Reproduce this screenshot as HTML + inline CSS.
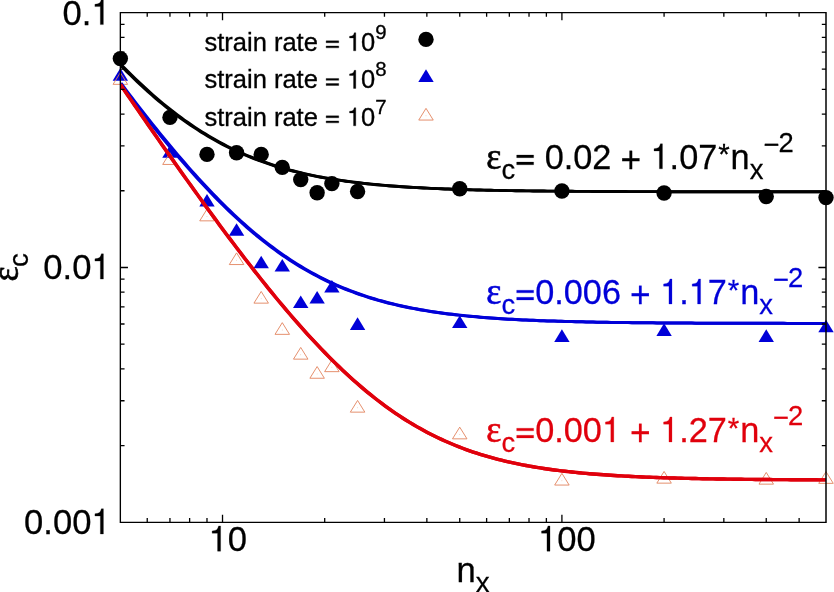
<!DOCTYPE html>
<html><head><meta charset="utf-8"><style>
html,body{margin:0;padding:0;background:#fff;}
body{width:834px;height:592px;overflow:hidden;position:relative;font-family:"Liberation Sans",sans-serif;}
svg{position:absolute;left:0;top:0;will-change:transform;}
text{font-kerning:none;}
</style></head><body>
<svg width="834" height="592" viewBox="0 0 834 592">
<circle cx="120.35" cy="58.60" r="7.7" fill="#000"/>
<circle cx="169.95" cy="117.40" r="7.7" fill="#000"/>
<circle cx="206.99" cy="154.40" r="7.7" fill="#000"/>
<circle cx="236.57" cy="152.70" r="7.7" fill="#000"/>
<circle cx="261.19" cy="154.40" r="7.7" fill="#000"/>
<circle cx="282.28" cy="167.40" r="7.7" fill="#000"/>
<circle cx="300.73" cy="179.60" r="7.7" fill="#000"/>
<circle cx="317.13" cy="192.80" r="7.7" fill="#000"/>
<circle cx="331.88" cy="183.60" r="7.7" fill="#000"/>
<circle cx="357.58" cy="191.50" r="7.7" fill="#000"/>
<circle cx="459.74" cy="188.70" r="7.7" fill="#000"/>
<circle cx="561.91" cy="191.00" r="7.7" fill="#000"/>
<circle cx="664.08" cy="193.00" r="7.7" fill="#000"/>
<circle cx="766.24" cy="196.50" r="7.7" fill="#000"/>
<circle cx="826.01" cy="197.60" r="7.7" fill="#000"/>
<path d="M120.35 68.10L128.05 80.70L112.65 80.70Z" fill="#0000d8"/>
<path d="M169.95 145.20L177.65 157.80L162.25 157.80Z" fill="#0000d8"/>
<path d="M206.99 194.00L214.69 206.60L199.29 206.60Z" fill="#0000d8"/>
<path d="M236.57 223.20L244.27 235.80L228.87 235.80Z" fill="#0000d8"/>
<path d="M261.19 255.70L268.89 268.30L253.49 268.30Z" fill="#0000d8"/>
<path d="M282.28 258.90L289.98 271.50L274.58 271.50Z" fill="#0000d8"/>
<path d="M300.73 295.40L308.43 308.00L293.03 308.00Z" fill="#0000d8"/>
<path d="M317.13 291.00L324.83 303.60L309.43 303.60Z" fill="#0000d8"/>
<path d="M331.88 279.90L339.58 292.50L324.18 292.50Z" fill="#0000d8"/>
<path d="M357.58 317.30L365.28 329.90L349.88 329.90Z" fill="#0000d8"/>
<path d="M459.74 315.50L467.44 328.10L452.04 328.10Z" fill="#0000d8"/>
<path d="M561.91 329.30L569.61 341.90L554.21 341.90Z" fill="#0000d8"/>
<path d="M664.08 323.30L671.78 335.90L656.38 335.90Z" fill="#0000d8"/>
<path d="M766.24 329.30L773.94 341.90L758.54 341.90Z" fill="#0000d8"/>
<path d="M826.01 319.70L833.71 332.30L818.31 332.30Z" fill="#0000d8"/>
<path d="M120.35 72.65L127.60 84.35L113.10 84.35Z" fill="none" stroke="#e2835e" stroke-width="0.9"/><circle cx="120.35" cy="80.00" r="0.45" fill="#e2835e" fill-opacity="0.6"/>
<path d="M169.95 152.75L177.20 164.45L162.70 164.45Z" fill="none" stroke="#e2835e" stroke-width="0.9"/><circle cx="169.95" cy="160.10" r="0.45" fill="#e2835e" fill-opacity="0.6"/>
<path d="M206.99 209.15L214.24 220.85L199.74 220.85Z" fill="none" stroke="#e2835e" stroke-width="0.9"/><circle cx="206.99" cy="216.50" r="0.45" fill="#e2835e" fill-opacity="0.6"/>
<path d="M236.57 252.85L243.82 264.55L229.32 264.55Z" fill="none" stroke="#e2835e" stroke-width="0.9"/><circle cx="236.57" cy="260.20" r="0.45" fill="#e2835e" fill-opacity="0.6"/>
<path d="M261.19 291.45L268.44 303.15L253.94 303.15Z" fill="none" stroke="#e2835e" stroke-width="0.9"/><circle cx="261.19" cy="298.80" r="0.45" fill="#e2835e" fill-opacity="0.6"/>
<path d="M282.28 322.65L289.53 334.35L275.03 334.35Z" fill="none" stroke="#e2835e" stroke-width="0.9"/><circle cx="282.28" cy="330.00" r="0.45" fill="#e2835e" fill-opacity="0.6"/>
<path d="M300.73 347.45L307.98 359.15L293.48 359.15Z" fill="none" stroke="#e2835e" stroke-width="0.9"/><circle cx="300.73" cy="354.80" r="0.45" fill="#e2835e" fill-opacity="0.6"/>
<path d="M317.13 366.55L324.38 378.25L309.88 378.25Z" fill="none" stroke="#e2835e" stroke-width="0.9"/><circle cx="317.13" cy="373.90" r="0.45" fill="#e2835e" fill-opacity="0.6"/>
<path d="M331.88 359.95L339.13 371.65L324.63 371.65Z" fill="none" stroke="#e2835e" stroke-width="0.9"/><circle cx="331.88" cy="367.30" r="0.45" fill="#e2835e" fill-opacity="0.6"/>
<path d="M357.58 400.45L364.83 412.15L350.33 412.15Z" fill="none" stroke="#e2835e" stroke-width="0.9"/><circle cx="357.58" cy="407.80" r="0.45" fill="#e2835e" fill-opacity="0.6"/>
<path d="M459.74 427.15L466.99 438.85L452.49 438.85Z" fill="none" stroke="#e2835e" stroke-width="0.9"/><circle cx="459.74" cy="434.50" r="0.45" fill="#e2835e" fill-opacity="0.6"/>
<path d="M561.91 473.35L569.16 485.05L554.66 485.05Z" fill="none" stroke="#e2835e" stroke-width="0.9"/><circle cx="561.91" cy="480.70" r="0.45" fill="#e2835e" fill-opacity="0.6"/>
<path d="M664.08 471.45L671.33 483.15L656.83 483.15Z" fill="none" stroke="#e2835e" stroke-width="0.9"/><circle cx="664.08" cy="478.80" r="0.45" fill="#e2835e" fill-opacity="0.6"/>
<path d="M766.24 472.45L773.49 484.15L758.99 484.15Z" fill="none" stroke="#e2835e" stroke-width="0.9"/><circle cx="766.24" cy="479.80" r="0.45" fill="#e2835e" fill-opacity="0.6"/>
<path d="M826.01 471.65L833.26 483.35L818.76 483.35Z" fill="none" stroke="#e2835e" stroke-width="0.9"/><circle cx="826.01" cy="479.00" r="0.45" fill="#e2835e" fill-opacity="0.6"/>
<clipPath id="pc"><rect x="120.35" y="7.65" width="705.65" height="519.65"/></clipPath><g clip-path="url(#pc)">
<polyline points="119.75,64.47 123.28,68.07 126.81,71.60 130.34,75.09 133.87,78.51 137.39,81.88 140.92,85.18 144.45,88.43 147.98,91.62 151.51,94.74 155.04,97.81 158.56,100.81 162.09,103.75 165.62,106.62 169.15,109.44 172.68,112.19 176.21,114.87 179.73,117.50 183.26,120.06 186.79,122.55 190.32,124.99 193.85,127.36 197.38,129.66 200.90,131.91 204.43,134.09 207.96,136.22 211.49,138.28 215.02,140.28 218.54,142.23 222.07,144.11 225.60,145.94 229.13,147.71 232.66,149.42 236.19,151.08 239.71,152.69 243.24,154.24 246.77,155.74 250.30,157.19 253.83,158.59 257.36,159.94 260.88,161.24 264.41,162.49 267.94,163.71 271.47,164.87 275.00,166.00 278.53,167.08 282.05,168.12 285.58,169.12 289.11,170.09 292.64,171.01 296.17,171.90 299.70,172.76 303.22,173.58 306.75,174.37 310.28,175.13 313.81,175.85 317.34,176.55 320.86,177.22 324.39,177.86 327.92,178.48 331.45,179.07 334.98,179.63 338.51,180.17 342.03,180.69 345.56,181.19 349.09,181.66 352.62,182.12 356.15,182.55 359.68,182.97 363.20,183.37 366.73,183.75 370.26,184.11 373.79,184.46 377.32,184.80 380.85,185.11 384.37,185.42 387.90,185.71 391.43,185.99 394.96,186.25 398.49,186.51 402.01,186.75 405.54,186.98 409.07,187.21 412.60,187.42 416.13,187.62 419.66,187.81 423.18,188.00 426.71,188.17 430.24,188.34 433.77,188.50 437.30,188.65 440.83,188.80 444.35,188.94 447.88,189.07 451.41,189.20 454.94,189.32 458.47,189.44 462.00,189.55 465.52,189.65 469.05,189.75 472.58,189.85 476.11,189.94 479.64,190.03 483.16,190.11 486.69,190.19 490.22,190.27 493.75,190.34 497.28,190.41 500.81,190.47 504.33,190.54 507.86,190.60 511.39,190.65 514.92,190.71 518.45,190.76 521.98,190.81 525.50,190.86 529.03,190.90 532.56,190.95 536.09,190.99 539.62,191.03 543.15,191.06 546.67,191.10 550.20,191.13 553.73,191.16 557.26,191.20 560.79,191.22 564.32,191.25 567.84,191.28 571.37,191.30 574.90,191.33 578.43,191.35 581.96,191.37 585.48,191.40 589.01,191.42 592.54,191.43 596.07,191.45 599.60,191.47 603.13,191.49 606.65,191.50 610.18,191.52 613.71,191.53 617.24,191.55 620.77,191.56 624.30,191.57 627.82,191.58 631.35,191.59 634.88,191.60 638.41,191.62 641.94,191.62 645.47,191.63 648.99,191.64 652.52,191.65 656.05,191.66 659.58,191.67 663.11,191.67 666.63,191.68 670.16,191.69 673.69,191.69 677.22,191.70 680.75,191.71 684.28,191.71 687.80,191.72 691.33,191.72 694.86,191.73 698.39,191.73 701.92,191.74 705.45,191.74 708.97,191.74 712.50,191.75 716.03,191.75 719.56,191.76 723.09,191.76 726.62,191.76 730.14,191.76 733.67,191.77 737.20,191.77 740.73,191.77 744.26,191.78 747.78,191.78 751.31,191.78 754.84,191.78 758.37,191.78 761.90,191.79 765.43,191.79 768.95,191.79 772.48,191.79 776.01,191.79 779.54,191.79 783.07,191.80 786.60,191.80 790.12,191.80 793.65,191.80 797.18,191.80 800.71,191.80 804.24,191.80 807.77,191.80 811.29,191.80 814.82,191.81 818.35,191.81 821.88,191.81 825.41,191.81" fill="none" stroke="#000" stroke-width="2.9" stroke-linejoin="round"/>
<polyline points="120.95,64.47 124.48,68.07 128.01,71.60 131.54,75.09 135.07,78.51 138.59,81.88 142.12,85.18 145.65,88.43 149.18,91.62 152.71,94.74 156.24,97.81 159.76,100.81 163.29,103.75 166.82,106.62 170.35,109.44 173.88,112.19 177.41,114.87 180.93,117.50 184.46,120.06 187.99,122.55 191.52,124.99 195.05,127.36 198.58,129.66 202.10,131.91 205.63,134.09 209.16,136.22 212.69,138.28 216.22,140.28 219.74,142.23 223.27,144.11 226.80,145.94 230.33,147.71 233.86,149.42 237.39,151.08 240.91,152.69 244.44,154.24 247.97,155.74 251.50,157.19 255.03,158.59 258.56,159.94 262.08,161.24 265.61,162.49 269.14,163.71 272.67,164.87 276.20,166.00 279.73,167.08 283.25,168.12 286.78,169.12 290.31,170.09 293.84,171.01 297.37,171.90 300.90,172.76 304.42,173.58 307.95,174.37 311.48,175.13 315.01,175.85 318.54,176.55 322.06,177.22 325.59,177.86 329.12,178.48 332.65,179.07 336.18,179.63 339.71,180.17 343.23,180.69 346.76,181.19 350.29,181.66 353.82,182.12 357.35,182.55 360.88,182.97 364.40,183.37 367.93,183.75 371.46,184.11 374.99,184.46 378.52,184.80 382.05,185.11 385.57,185.42 389.10,185.71 392.63,185.99 396.16,186.25 399.69,186.51 403.21,186.75 406.74,186.98 410.27,187.21 413.80,187.42 417.33,187.62 420.86,187.81 424.38,188.00 427.91,188.17 431.44,188.34 434.97,188.50 438.50,188.65 442.03,188.80 445.55,188.94 449.08,189.07 452.61,189.20 456.14,189.32 459.67,189.44 463.20,189.55 466.72,189.65 470.25,189.75 473.78,189.85 477.31,189.94 480.84,190.03 484.36,190.11 487.89,190.19 491.42,190.27 494.95,190.34 498.48,190.41 502.01,190.47 505.53,190.54 509.06,190.60 512.59,190.65 516.12,190.71 519.65,190.76 523.18,190.81 526.70,190.86 530.23,190.90 533.76,190.95 537.29,190.99 540.82,191.03 544.35,191.06 547.87,191.10 551.40,191.13 554.93,191.16 558.46,191.20 561.99,191.22 565.52,191.25 569.04,191.28 572.57,191.30 576.10,191.33 579.63,191.35 583.16,191.37 586.68,191.40 590.21,191.42 593.74,191.43 597.27,191.45 600.80,191.47 604.33,191.49 607.85,191.50 611.38,191.52 614.91,191.53 618.44,191.55 621.97,191.56 625.50,191.57 629.02,191.58 632.55,191.59 636.08,191.60 639.61,191.62 643.14,191.62 646.67,191.63 650.19,191.64 653.72,191.65 657.25,191.66 660.78,191.67 664.31,191.67 667.83,191.68 671.36,191.69 674.89,191.69 678.42,191.70 681.95,191.71 685.48,191.71 689.00,191.72 692.53,191.72 696.06,191.73 699.59,191.73 703.12,191.74 706.65,191.74 710.17,191.74 713.70,191.75 717.23,191.75 720.76,191.76 724.29,191.76 727.82,191.76 731.34,191.76 734.87,191.77 738.40,191.77 741.93,191.77 745.46,191.78 748.98,191.78 752.51,191.78 756.04,191.78 759.57,191.78 763.10,191.79 766.63,191.79 770.15,191.79 773.68,191.79 777.21,191.79 780.74,191.79 784.27,191.80 787.80,191.80 791.32,191.80 794.85,191.80 798.38,191.80 801.91,191.80 805.44,191.80 808.97,191.80 812.49,191.80 816.02,191.81 819.55,191.81 823.08,191.81 826.61,191.81" fill="none" stroke="#000" stroke-width="2.9" stroke-linejoin="round"/>
<polyline points="119.75,83.27 123.28,87.95 126.81,92.61 130.34,97.23 133.87,101.83 137.39,106.40 140.92,110.94 144.45,115.44 147.98,119.91 151.51,124.35 155.04,128.76 158.56,133.13 162.09,137.46 165.62,141.75 169.15,146.00 172.68,150.21 176.21,154.38 179.73,158.51 183.26,162.59 186.79,166.63 190.32,170.62 193.85,174.56 197.38,178.46 200.90,182.30 204.43,186.10 207.96,189.84 211.49,193.52 215.02,197.16 218.54,200.74 222.07,204.26 225.60,207.73 229.13,211.13 232.66,214.48 236.19,217.77 239.71,221.00 243.24,224.17 246.77,227.28 250.30,230.32 253.83,233.31 257.36,236.23 260.88,239.09 264.41,241.88 267.94,244.61 271.47,247.28 275.00,249.89 278.53,252.43 282.05,254.91 285.58,257.32 289.11,259.68 292.64,261.97 296.17,264.20 299.70,266.36 303.22,268.47 306.75,270.51 310.28,272.50 313.81,274.42 317.34,276.29 320.86,278.10 324.39,279.86 327.92,281.56 331.45,283.20 334.98,284.79 338.51,286.33 342.03,287.81 345.56,289.25 349.09,290.63 352.62,291.97 356.15,293.26 359.68,294.50 363.20,295.70 366.73,296.85 370.26,297.97 373.79,299.04 377.32,300.07 380.85,301.06 384.37,302.01 387.90,302.93 391.43,303.81 394.96,304.65 398.49,305.46 402.01,306.24 405.54,306.99 409.07,307.71 412.60,308.40 416.13,309.06 419.66,309.70 423.18,310.30 426.71,310.89 430.24,311.44 433.77,311.98 437.30,312.49 440.83,312.98 444.35,313.45 447.88,313.90 451.41,314.33 454.94,314.74 458.47,315.13 462.00,315.51 465.52,315.87 469.05,316.21 472.58,316.54 476.11,316.86 479.64,317.16 483.16,317.45 486.69,317.72 490.22,317.98 493.75,318.23 497.28,318.47 500.81,318.70 504.33,318.92 507.86,319.13 511.39,319.33 514.92,319.52 518.45,319.70 521.98,319.88 525.50,320.04 529.03,320.20 532.56,320.35 536.09,320.50 539.62,320.63 543.15,320.77 546.67,320.89 550.20,321.01 553.73,321.12 557.26,321.23 560.79,321.34 564.32,321.44 567.84,321.53 571.37,321.62 574.90,321.71 578.43,321.79 581.96,321.87 585.48,321.94 589.01,322.02 592.54,322.08 596.07,322.15 599.60,322.21 603.13,322.27 606.65,322.33 610.18,322.38 613.71,322.43 617.24,322.48 620.77,322.53 624.30,322.57 627.82,322.61 631.35,322.65 634.88,322.69 638.41,322.73 641.94,322.76 645.47,322.80 648.99,322.83 652.52,322.86 656.05,322.89 659.58,322.92 663.11,322.94 666.63,322.97 670.16,322.99 673.69,323.01 677.22,323.04 680.75,323.06 684.28,323.08 687.80,323.09 691.33,323.11 694.86,323.13 698.39,323.15 701.92,323.16 705.45,323.18 708.97,323.19 712.50,323.20 716.03,323.22 719.56,323.23 723.09,323.24 726.62,323.25 730.14,323.26 733.67,323.27 737.20,323.28 740.73,323.29 744.26,323.30 747.78,323.31 751.31,323.32 754.84,323.32 758.37,323.33 761.90,323.34 765.43,323.35 768.95,323.35 772.48,323.36 776.01,323.36 779.54,323.37 783.07,323.37 786.60,323.38 790.12,323.38 793.65,323.39 797.18,323.39 800.71,323.40 804.24,323.40 807.77,323.40 811.29,323.41 814.82,323.41 818.35,323.41 821.88,323.42 825.41,323.42" fill="none" stroke="#0000d8" stroke-width="3.0" stroke-linejoin="round"/>
<polyline points="120.95,83.27 124.48,87.95 128.01,92.61 131.54,97.23 135.07,101.83 138.59,106.40 142.12,110.94 145.65,115.44 149.18,119.91 152.71,124.35 156.24,128.76 159.76,133.13 163.29,137.46 166.82,141.75 170.35,146.00 173.88,150.21 177.41,154.38 180.93,158.51 184.46,162.59 187.99,166.63 191.52,170.62 195.05,174.56 198.58,178.46 202.10,182.30 205.63,186.10 209.16,189.84 212.69,193.52 216.22,197.16 219.74,200.74 223.27,204.26 226.80,207.73 230.33,211.13 233.86,214.48 237.39,217.77 240.91,221.00 244.44,224.17 247.97,227.28 251.50,230.32 255.03,233.31 258.56,236.23 262.08,239.09 265.61,241.88 269.14,244.61 272.67,247.28 276.20,249.89 279.73,252.43 283.25,254.91 286.78,257.32 290.31,259.68 293.84,261.97 297.37,264.20 300.90,266.36 304.42,268.47 307.95,270.51 311.48,272.50 315.01,274.42 318.54,276.29 322.06,278.10 325.59,279.86 329.12,281.56 332.65,283.20 336.18,284.79 339.71,286.33 343.23,287.81 346.76,289.25 350.29,290.63 353.82,291.97 357.35,293.26 360.88,294.50 364.40,295.70 367.93,296.85 371.46,297.97 374.99,299.04 378.52,300.07 382.05,301.06 385.57,302.01 389.10,302.93 392.63,303.81 396.16,304.65 399.69,305.46 403.21,306.24 406.74,306.99 410.27,307.71 413.80,308.40 417.33,309.06 420.86,309.70 424.38,310.30 427.91,310.89 431.44,311.44 434.97,311.98 438.50,312.49 442.03,312.98 445.55,313.45 449.08,313.90 452.61,314.33 456.14,314.74 459.67,315.13 463.20,315.51 466.72,315.87 470.25,316.21 473.78,316.54 477.31,316.86 480.84,317.16 484.36,317.45 487.89,317.72 491.42,317.98 494.95,318.23 498.48,318.47 502.01,318.70 505.53,318.92 509.06,319.13 512.59,319.33 516.12,319.52 519.65,319.70 523.18,319.88 526.70,320.04 530.23,320.20 533.76,320.35 537.29,320.50 540.82,320.63 544.35,320.77 547.87,320.89 551.40,321.01 554.93,321.12 558.46,321.23 561.99,321.34 565.52,321.44 569.04,321.53 572.57,321.62 576.10,321.71 579.63,321.79 583.16,321.87 586.68,321.94 590.21,322.02 593.74,322.08 597.27,322.15 600.80,322.21 604.33,322.27 607.85,322.33 611.38,322.38 614.91,322.43 618.44,322.48 621.97,322.53 625.50,322.57 629.02,322.61 632.55,322.65 636.08,322.69 639.61,322.73 643.14,322.76 646.67,322.80 650.19,322.83 653.72,322.86 657.25,322.89 660.78,322.92 664.31,322.94 667.83,322.97 671.36,322.99 674.89,323.01 678.42,323.04 681.95,323.06 685.48,323.08 689.00,323.09 692.53,323.11 696.06,323.13 699.59,323.15 703.12,323.16 706.65,323.18 710.17,323.19 713.70,323.20 717.23,323.22 720.76,323.23 724.29,323.24 727.82,323.25 731.34,323.26 734.87,323.27 738.40,323.28 741.93,323.29 745.46,323.30 748.98,323.31 752.51,323.32 756.04,323.32 759.57,323.33 763.10,323.34 766.63,323.35 770.15,323.35 773.68,323.36 777.21,323.36 780.74,323.37 784.27,323.37 787.80,323.38 791.32,323.38 794.85,323.39 798.38,323.39 801.91,323.40 805.44,323.40 808.97,323.40 812.49,323.41 816.02,323.41 819.55,323.41 823.08,323.42 826.61,323.42" fill="none" stroke="#0000d8" stroke-width="3.0" stroke-linejoin="round"/>
<polyline points="120.20,84.46 123.73,89.61 127.26,94.75 130.79,99.88 134.32,105.00 137.84,110.12 141.37,115.22 144.90,120.32 148.43,125.41 151.96,130.49 155.49,135.56 159.01,140.61 162.54,145.66 166.07,150.69 169.60,155.72 173.13,160.73 176.66,165.72 180.18,170.70 183.71,175.67 187.24,180.62 190.77,185.56 194.30,190.48 197.83,195.38 201.35,200.27 204.88,205.13 208.41,209.98 211.94,214.81 215.47,219.61 218.99,224.40 222.52,229.16 226.05,233.90 229.58,238.61 233.11,243.30 236.64,247.96 240.16,252.59 243.69,257.20 247.22,261.78 250.75,266.32 254.28,270.84 257.81,275.32 261.33,279.77 264.86,284.18 268.39,288.56 271.92,292.90 275.45,297.21 278.98,301.47 282.50,305.69 286.03,309.88 289.56,314.01 293.09,318.11 296.62,322.16 300.15,326.16 303.67,330.12 307.20,334.03 310.73,337.89 314.26,341.69 317.79,345.45 321.31,349.15 324.84,352.80 328.37,356.39 331.90,359.93 335.43,363.41 338.96,366.84 342.48,370.20 346.01,373.51 349.54,376.76 353.07,379.94 356.60,383.07 360.13,386.13 363.65,389.13 367.18,392.07 370.71,394.94 374.24,397.76 377.77,400.51 381.30,403.19 384.82,405.82 388.35,408.38 391.88,410.87 395.41,413.30 398.94,415.67 402.46,417.98 405.99,420.23 409.52,422.41 413.05,424.53 416.58,426.60 420.11,428.60 423.63,430.54 427.16,432.42 430.69,434.25 434.22,436.02 437.75,437.73 441.28,439.39 444.80,441.00 448.33,442.55 451.86,444.05 455.39,445.50 458.92,446.90 462.45,448.25 465.97,449.55 469.50,450.80 473.03,452.02 476.56,453.18 480.09,454.31 483.61,455.39 487.14,456.43 490.67,457.43 494.20,458.39 497.73,459.32 501.26,460.21 504.78,461.07 508.31,461.89 511.84,462.68 515.37,463.43 518.90,464.16 522.43,464.86 525.95,465.53 529.48,466.17 533.01,466.78 536.54,467.37 540.07,467.94 543.60,468.48 547.12,468.99 550.65,469.49 554.18,469.97 557.71,470.42 561.24,470.86 564.77,471.27 568.29,471.67 571.82,472.05 575.35,472.42 578.88,472.76 582.41,473.10 585.93,473.42 589.46,473.72 592.99,474.01 596.52,474.29 600.05,474.56 603.58,474.81 607.10,475.05 610.63,475.29 614.16,475.51 617.69,475.72 621.22,475.92 624.75,476.11 628.27,476.30 631.80,476.47 635.33,476.64 638.86,476.80 642.39,476.96 645.92,477.10 649.44,477.24 652.97,477.37 656.50,477.50 660.03,477.62 663.56,477.74 667.08,477.85 670.61,477.95 674.14,478.06 677.67,478.15 681.20,478.24 684.73,478.33 688.25,478.41 691.78,478.49 695.31,478.57 698.84,478.64 702.37,478.71 705.90,478.78 709.42,478.84 712.95,478.90 716.48,478.96 720.01,479.01 723.54,479.06 727.07,479.11 730.59,479.16 734.12,479.20 737.65,479.25 741.18,479.29 744.71,479.33 748.23,479.36 751.76,479.40 755.29,479.43 758.82,479.46 762.35,479.50 765.88,479.52 769.40,479.55 772.93,479.58 776.46,479.61 779.99,479.63 783.52,479.65 787.05,479.67 790.57,479.70 794.10,479.72 797.63,479.73 801.16,479.75 804.69,479.77 808.22,479.79 811.74,479.80 815.27,479.82 818.80,479.83 822.33,479.85 825.86,479.86" fill="none" stroke="#e0000c" stroke-width="3.4" stroke-linejoin="round"/>
<polyline points="120.50,84.46 124.03,89.61 127.56,94.75 131.09,99.88 134.62,105.00 138.14,110.12 141.67,115.22 145.20,120.32 148.73,125.41 152.26,130.49 155.79,135.56 159.31,140.61 162.84,145.66 166.37,150.69 169.90,155.72 173.43,160.73 176.96,165.72 180.48,170.70 184.01,175.67 187.54,180.62 191.07,185.56 194.60,190.48 198.13,195.38 201.65,200.27 205.18,205.13 208.71,209.98 212.24,214.81 215.77,219.61 219.29,224.40 222.82,229.16 226.35,233.90 229.88,238.61 233.41,243.30 236.94,247.96 240.46,252.59 243.99,257.20 247.52,261.78 251.05,266.32 254.58,270.84 258.11,275.32 261.63,279.77 265.16,284.18 268.69,288.56 272.22,292.90 275.75,297.21 279.28,301.47 282.80,305.69 286.33,309.88 289.86,314.01 293.39,318.11 296.92,322.16 300.45,326.16 303.97,330.12 307.50,334.03 311.03,337.89 314.56,341.69 318.09,345.45 321.61,349.15 325.14,352.80 328.67,356.39 332.20,359.93 335.73,363.41 339.26,366.84 342.78,370.20 346.31,373.51 349.84,376.76 353.37,379.94 356.90,383.07 360.43,386.13 363.95,389.13 367.48,392.07 371.01,394.94 374.54,397.76 378.07,400.51 381.60,403.19 385.12,405.82 388.65,408.38 392.18,410.87 395.71,413.30 399.24,415.67 402.76,417.98 406.29,420.23 409.82,422.41 413.35,424.53 416.88,426.60 420.41,428.60 423.93,430.54 427.46,432.42 430.99,434.25 434.52,436.02 438.05,437.73 441.58,439.39 445.10,441.00 448.63,442.55 452.16,444.05 455.69,445.50 459.22,446.90 462.75,448.25 466.27,449.55 469.80,450.80 473.33,452.02 476.86,453.18 480.39,454.31 483.91,455.39 487.44,456.43 490.97,457.43 494.50,458.39 498.03,459.32 501.56,460.21 505.08,461.07 508.61,461.89 512.14,462.68 515.67,463.43 519.20,464.16 522.73,464.86 526.25,465.53 529.78,466.17 533.31,466.78 536.84,467.37 540.37,467.94 543.90,468.48 547.42,468.99 550.95,469.49 554.48,469.97 558.01,470.42 561.54,470.86 565.07,471.27 568.59,471.67 572.12,472.05 575.65,472.42 579.18,472.76 582.71,473.10 586.23,473.42 589.76,473.72 593.29,474.01 596.82,474.29 600.35,474.56 603.88,474.81 607.40,475.05 610.93,475.29 614.46,475.51 617.99,475.72 621.52,475.92 625.05,476.11 628.57,476.30 632.10,476.47 635.63,476.64 639.16,476.80 642.69,476.96 646.22,477.10 649.74,477.24 653.27,477.37 656.80,477.50 660.33,477.62 663.86,477.74 667.38,477.85 670.91,477.95 674.44,478.06 677.97,478.15 681.50,478.24 685.03,478.33 688.55,478.41 692.08,478.49 695.61,478.57 699.14,478.64 702.67,478.71 706.20,478.78 709.72,478.84 713.25,478.90 716.78,478.96 720.31,479.01 723.84,479.06 727.37,479.11 730.89,479.16 734.42,479.20 737.95,479.25 741.48,479.29 745.01,479.33 748.53,479.36 752.06,479.40 755.59,479.43 759.12,479.46 762.65,479.50 766.18,479.52 769.70,479.55 773.23,479.58 776.76,479.61 780.29,479.63 783.82,479.65 787.35,479.67 790.87,479.70 794.40,479.72 797.93,479.73 801.46,479.75 804.99,479.77 808.52,479.79 812.04,479.80 815.57,479.82 819.10,479.83 822.63,479.85 826.16,479.86" fill="none" stroke="#e0000c" stroke-width="3.4" stroke-linejoin="round"/>
</g>
<path d="M120.35 12.65H826.0M120.35 522.3H826.0M120.35 11.950000000000001V523.0" stroke="#000" stroke-width="1.35" fill="none"/>
<path d="M826.0 11.950000000000001V523.0" stroke="#000" stroke-width="1.5" fill="none"/>
<path d="M147.23 522.3v-4.2M147.23 12.65v4.2M169.95 522.3v-4.2M169.95 12.65v4.2M189.63 522.3v-4.2M189.63 12.65v4.2M206.99 522.3v-4.2M206.99 12.65v4.2M222.52 522.3v-7.6M222.52 12.65v7.6M324.69 522.3v-4.2M324.69 12.65v4.2M384.45 522.3v-4.2M384.45 12.65v4.2M426.85 522.3v-4.2M426.85 12.65v4.2M459.74 522.3v-4.2M459.74 12.65v4.2M486.62 522.3v-4.2M486.62 12.65v4.2M509.34 522.3v-4.2M509.34 12.65v4.2M529.02 522.3v-4.2M529.02 12.65v4.2M546.38 522.3v-4.2M546.38 12.65v4.2M561.91 522.3v-7.6M561.91 12.65v7.6M664.08 522.3v-4.2M664.08 12.65v4.2M723.84 522.3v-4.2M723.84 12.65v4.2M766.24 522.3v-4.2M766.24 12.65v4.2M799.13 522.3v-4.2M799.13 12.65v4.2M120.35 445.60h4.2M826.0 445.60h-4.2M120.35 400.73h4.2M826.0 400.73h-4.2M120.35 368.89h4.2M826.0 368.89h-4.2M120.35 344.19h4.2M826.0 344.19h-4.2M120.35 324.01h4.2M826.0 324.01h-4.2M120.35 306.95h4.2M826.0 306.95h-4.2M120.35 292.18h4.2M826.0 292.18h-4.2M120.35 279.14h4.2M826.0 279.14h-4.2M120.35 267.48h7.6M826.0 267.48h-7.6M120.35 190.77h4.2M826.0 190.77h-4.2M120.35 145.90h4.2M826.0 145.90h-4.2M120.35 114.06h4.2M826.0 114.06h-4.2M120.35 89.36h4.2M826.0 89.36h-4.2M120.35 69.18h4.2M826.0 69.18h-4.2M120.35 52.12h4.2M826.0 52.12h-4.2M120.35 37.35h4.2M826.0 37.35h-4.2M120.35 24.31h4.2M826.0 24.31h-4.2" stroke="#000" stroke-width="1.3" fill="none"/>
<circle cx="426" cy="39.4" r="7.7" fill="#000"/>
<path d="M426.00 69.30L433.70 81.90L418.30 81.90Z" fill="#0000d8"/>
<path d="M426.00 108.35L433.25 120.05L418.75 120.05Z" fill="none" stroke="#e2835e" stroke-width="0.9"/><circle cx="426.00" cy="115.70" r="0.45" fill="#e2835e" fill-opacity="0.6"/>
<g fill="#000"><path d="M259 505H102V568Q204 581 235 604Q266 627 289 709H347V0H259Z" transform="translate(91.36 24.6) scale(0.03460 -0.03564)" stroke="#000" stroke-width="7.23"/><text x="62.5 81.74" y="24.6" font-size="34.6" font-family="Liberation Sans" stroke="#000" stroke-width="0.25" transform="matrix(1 0 0 1.03 0 -0.74)">0.</text></g>
<g fill="#000"><path d="M259 505H102V568Q204 581 235 604Q266 627 289 709H347V0H259Z" transform="translate(91.4 279.1) scale(0.03460 -0.03564)" stroke="#000" stroke-width="7.23"/><text x="43.3 62.54 72.16" y="279.1" font-size="34.6" font-family="Liberation Sans" stroke="#000" stroke-width="0.25" transform="matrix(1 0 0 1.03 0 -8.37)">0.0</text></g>
<g fill="#000"><path d="M259 505H102V568Q204 581 235 604Q266 627 289 709H347V0H259Z" transform="translate(91.4 534) scale(0.03460 -0.03564)" stroke="#000" stroke-width="7.23"/><text x="24.06 43.3 52.92 72.16" y="534" font-size="34.6" font-family="Liberation Sans" stroke="#000" stroke-width="0.25" transform="matrix(1 0 0 1.03 0 -16.02)">0.00</text></g>
<g fill="#000"><path d="M259 505H102V568Q204 581 235 604Q266 627 289 709H347V0H259Z" transform="translate(208.6 551.2) scale(0.03460 -0.03564)" stroke="#000" stroke-width="7.23"/><text x="227.84" y="551.2" font-size="34.6" font-family="Liberation Sans" stroke="#000" stroke-width="0.25" transform="matrix(1 0 0 1.03 0 -16.54)">0</text></g>
<g fill="#000"><path d="M259 505H102V568Q204 581 235 604Q266 627 289 709H347V0H259Z" transform="translate(538 551.2) scale(0.03460 -0.03564)" stroke="#000" stroke-width="7.23"/><text x="557.24 576.49" y="551.2" font-size="34.6" font-family="Liberation Sans" stroke="#000" stroke-width="0.25" transform="matrix(1 0 0 1.03 0 -16.54)">00</text></g>
<g fill="#000"><text x="456.6" y="582" font-size="34.6" font-family="Liberation Sans" stroke="#000" stroke-width="0.25" transform="matrix(1 0 0 1.03 0 -17.46)">n</text><text x="475.84" y="592.3" font-size="27.7" font-family="Liberation Sans" stroke="#000" stroke-width="0.25" transform="matrix(1 0 0 1.03 0 -17.77)">x</text></g>
<g transform="translate(18.0 281.4) rotate(-90)"><g fill="#000"><text x="0" y="0" font-size="36" font-family="Liberation Serif" stroke="#000" stroke-width="0.6" transform="matrix(1 0 0 1.03 0 -0)">ε</text><text x="14.4" y="10" font-size="27.7" font-family="Liberation Sans" stroke="#000" stroke-width="0.25" transform="matrix(1 0 0 1.03 0 -0.3)">c</text></g></g>
<g fill="#000"><path d="M45 115H540V190H45ZM45 315H540V390H45Z" transform="translate(324.97 50.8) scale(0.02550 -0.02550)" stroke="#000" stroke-width="12.55"/><path d="M259 505H102V568Q204 581 235 604Q266 627 289 709H347V0H259Z" transform="translate(346.94 50.8) scale(0.02550 -0.02550)" stroke="#000" stroke-width="12.55"/><text x="204.5 217.25 224.33 232.83 247.01 252.67 273.94 282.43 296.61 303.7 361.12" y="50.8" font-size="25.5" font-family="Liberation Sans" stroke="#000" stroke-width="0.32">strainrate0</text><text x="375.31" y="38.6" font-size="20.4" font-family="Liberation Sans" stroke="#000" stroke-width="0.32">9</text></g>
<g fill="#000"><path d="M45 115H540V190H45ZM45 315H540V390H45Z" transform="translate(324.97 88.4) scale(0.02550 -0.02550)" stroke="#000" stroke-width="12.55"/><path d="M259 505H102V568Q204 581 235 604Q266 627 289 709H347V0H259Z" transform="translate(346.94 88.4) scale(0.02550 -0.02550)" stroke="#000" stroke-width="12.55"/><text x="204.5 217.25 224.33 232.83 247.01 252.67 273.94 282.43 296.61 303.7 361.12" y="88.4" font-size="25.5" font-family="Liberation Sans" stroke="#000" stroke-width="0.32">strainrate0</text><text x="375.31" y="76.2" font-size="20.4" font-family="Liberation Sans" stroke="#000" stroke-width="0.32">8</text></g>
<g fill="#000"><path d="M45 115H540V190H45ZM45 315H540V390H45Z" transform="translate(324.97 125.8) scale(0.02550 -0.02550)" stroke="#000" stroke-width="12.55"/><path d="M259 505H102V568Q204 581 235 604Q266 627 289 709H347V0H259Z" transform="translate(346.94 125.8) scale(0.02550 -0.02550)" stroke="#000" stroke-width="12.55"/><text x="204.5 217.25 224.33 232.83 247.01 252.67 273.94 282.43 296.61 303.7 361.12" y="125.8" font-size="25.5" font-family="Liberation Sans" stroke="#000" stroke-width="0.32">strainrate0</text><text x="375.31" y="113.6" font-size="20.4" font-family="Liberation Sans" stroke="#000" stroke-width="0.32">7</text></g>
<g fill="#000"><text x="486.3" y="168.8" font-size="36" font-family="Liberation Serif" stroke="#000" stroke-width="0.6" transform="matrix(1 0 0 1.03 0 -5.06)">ε</text><text x="501.42" y="178.6" font-size="27.4" font-family="Liberation Sans" stroke="#000" stroke-width="0.25" transform="matrix(1 0 0 1.03 0 -5.36)">c</text><path d="M45 115H540V190H45ZM45 315H540V390H45Z" transform="translate(515.12 168.8) scale(0.03430 -0.03533)" stroke="#000" stroke-width="7.29"/><path d="M259 505H102V568Q204 581 235 604Q266 627 289 709H347V0H259Z" transform="translate(650.53 168.8) scale(0.03430 -0.03533)" stroke="#000" stroke-width="7.29"/><text x="544.68 563.75 573.28 592.36 669.6 679.13 698.21 730.63" y="168.8" font-size="34.3" font-family="Liberation Sans" stroke="#000" stroke-width="0.25" transform="matrix(1 0 0 1.03 0 -5.06)">0.02.07n</text><text x="620.55" y="171.72" font-size="35.33" font-family="Liberation Sans" stroke="#000" stroke-width="0.25" transform="matrix(1 0 0 1.03 0 -5.15)">+</text><text x="718.14" y="164.48" font-size="29.5" font-family="Liberation Sans" stroke="#000" stroke-width="0.25" transform="matrix(1 0 0 1.03 0 -4.93)">*</text><text x="749.71" y="178.6" font-size="27.4" font-family="Liberation Sans" stroke="#000" stroke-width="0.25" transform="matrix(1 0 0 1.03 0 -5.36)">x</text><text x="763.41" y="153.6" font-size="27.4" font-family="Liberation Sans" stroke="#000" stroke-width="0.25" transform="matrix(1 0 0 1.03 0 -4.61)">−</text><text x="778.45" y="151.6" font-size="27.4" font-family="Liberation Sans" stroke="#000" stroke-width="0.25" transform="matrix(1 0 0 1.03 0 -4.55)">2</text></g>
<g fill="#0000d8"><text x="486.3" y="304" font-size="36" font-family="Liberation Serif" stroke="#0000d8" stroke-width="0.6" transform="matrix(1 0 0 1.03 0 -9.12)">ε</text><text x="501.42" y="313.8" font-size="27.4" font-family="Liberation Sans" stroke="#0000d8" stroke-width="0.25" transform="matrix(1 0 0 1.03 0 -9.41)">c</text><path d="M45 115H540V190H45ZM45 315H540V390H45Z" transform="translate(515.12 304) scale(0.03430 -0.03533)" stroke="#0000d8" stroke-width="7.29"/><path d="M259 505H102V568Q204 581 235 604Q266 627 289 709H347V0H259Z" transform="translate(660.07 304) scale(0.03430 -0.03533)" stroke="#0000d8" stroke-width="7.29"/><path d="M259 505H102V568Q204 581 235 604Q266 627 289 709H347V0H259Z" transform="translate(688.68 304) scale(0.03430 -0.03533)" stroke="#0000d8" stroke-width="7.29"/><text x="535.15 554.22 563.75 582.83 601.91 679.15 707.75 740.18" y="304" font-size="34.3" font-family="Liberation Sans" stroke="#0000d8" stroke-width="0.25" transform="matrix(1 0 0 1.03 0 -9.12)">0.006.7n</text><text x="630.1" y="306.92" font-size="35.33" font-family="Liberation Sans" stroke="#0000d8" stroke-width="0.25" transform="matrix(1 0 0 1.03 0 -9.21)">+</text><text x="727.69" y="299.68" font-size="29.5" font-family="Liberation Sans" stroke="#0000d8" stroke-width="0.25" transform="matrix(1 0 0 1.03 0 -8.99)">*</text><text x="759.25" y="313.8" font-size="27.4" font-family="Liberation Sans" stroke="#0000d8" stroke-width="0.25" transform="matrix(1 0 0 1.03 0 -9.41)">x</text><text x="772.95" y="288.8" font-size="27.4" font-family="Liberation Sans" stroke="#0000d8" stroke-width="0.25" transform="matrix(1 0 0 1.03 0 -8.66)">−</text><text x="788" y="286.8" font-size="27.4" font-family="Liberation Sans" stroke="#0000d8" stroke-width="0.25" transform="matrix(1 0 0 1.03 0 -8.6)">2</text></g>
<g fill="#e0000c"><text x="486.3" y="442" font-size="36" font-family="Liberation Serif" stroke="#e0000c" stroke-width="0.6" transform="matrix(1 0 0 1.03 0 -13.26)">ε</text><text x="501.42" y="451.8" font-size="27.4" font-family="Liberation Sans" stroke="#e0000c" stroke-width="0.25" transform="matrix(1 0 0 1.03 0 -13.55)">c</text><path d="M45 115H540V190H45ZM45 315H540V390H45Z" transform="translate(515.12 442) scale(0.03430 -0.03533)" stroke="#e0000c" stroke-width="7.29"/><path d="M259 505H102V568Q204 581 235 604Q266 627 289 709H347V0H259Z" transform="translate(601.91 442) scale(0.03430 -0.03533)" stroke="#e0000c" stroke-width="7.29"/><path d="M259 505H102V568Q204 581 235 604Q266 627 289 709H347V0H259Z" transform="translate(660.07 442) scale(0.03430 -0.03533)" stroke="#e0000c" stroke-width="7.29"/><text x="535.15 554.22 563.75 582.83 679.15 688.68 707.75 740.18" y="442" font-size="34.3" font-family="Liberation Sans" stroke="#e0000c" stroke-width="0.25" transform="matrix(1 0 0 1.03 0 -13.26)">0.00.27n</text><text x="630.1" y="444.92" font-size="35.33" font-family="Liberation Sans" stroke="#e0000c" stroke-width="0.25" transform="matrix(1 0 0 1.03 0 -13.35)">+</text><text x="727.69" y="437.68" font-size="29.5" font-family="Liberation Sans" stroke="#e0000c" stroke-width="0.25" transform="matrix(1 0 0 1.03 0 -13.13)">*</text><text x="759.25" y="451.8" font-size="27.4" font-family="Liberation Sans" stroke="#e0000c" stroke-width="0.25" transform="matrix(1 0 0 1.03 0 -13.55)">x</text><text x="772.95" y="426.8" font-size="27.4" font-family="Liberation Sans" stroke="#e0000c" stroke-width="0.25" transform="matrix(1 0 0 1.03 0 -12.8)">−</text><text x="788" y="424.8" font-size="27.4" font-family="Liberation Sans" stroke="#e0000c" stroke-width="0.25" transform="matrix(1 0 0 1.03 0 -12.74)">2</text></g>
</svg>
</body></html>
